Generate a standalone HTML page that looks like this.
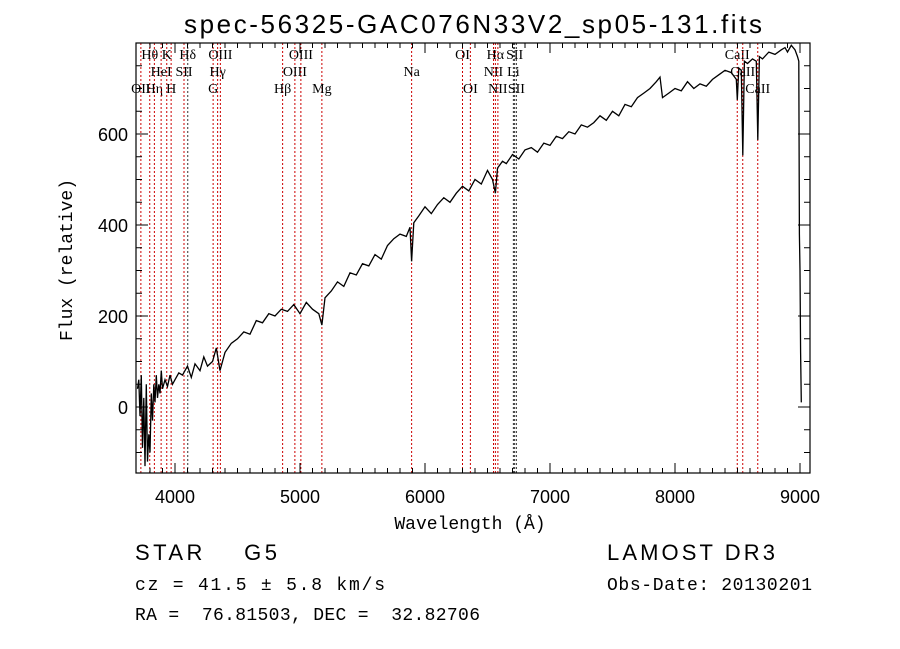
<!DOCTYPE html>
<html><head><meta charset="utf-8"><style>
body{margin:0;background:#fff}
svg{display:block}
text{font-family:"Liberation Serif",serif;fill:#000;white-space:pre}
.m{font-family:"Liberation Mono",monospace}
.s{font-family:"Liberation Sans",sans-serif}
</style></head><body>
<svg id="c" width="900" height="649" xmlns="http://www.w3.org/2000/svg">
<rect width="900" height="649" fill="#fff"/>
<text class="s" x="473" y="33" font-size="26" text-anchor="middle" textLength="578">spec-56325-GAC076N33V2_sp05-131.fits</text>
<g id="lines"></g>
<g id="axes"></g>
<polyline id="spec" fill="none" stroke="#000" stroke-width="1.3"/>
<text class="m" x="470" y="529" font-size="18" text-anchor="middle">Wavelength (Å)</text>
<text class="m" x="0" y="0" font-size="18" text-anchor="middle" transform="translate(72,260) rotate(-90)">Flux (relative)</text>
<text class="s" x="135" y="560" font-size="22" textLength="142">STAR    G5</text>
<text class="m" x="135" y="590" font-size="18" textLength="250">cz = 41.5 ± 5.8 km/s</text>
<text class="m" x="135" y="620" font-size="18" textLength="345">RA =  76.81503, DEC =  32.82706</text>
<text class="s" x="607" y="560" font-size="22" textLength="168">LAMOST DR3</text>
<text class="m" x="607" y="590" font-size="18" textLength="205">Obs-Date: 20130201</text>
</svg>
<script>
const waves=[3700,3710,3720,3730,3740,3750,3760,3770,3780,3790,3800,3810,3820,3830,3840,3850,3860,3870,3880,3890,3900,3920,3940,3960,3980,4000,4030,4060,4100,4130,4160,4200,4230,4260,4300,4330,4360,4400,4450,4500,4550,4600,4650,4700,4750,4800,4850,4900,4950,5000,5050,5100,5150,5175,5200,5250,5300,5350,5400,5450,5500,5550,5600,5650,5700,5750,5800,5850,5880,5893,5910,5950,6000,6050,6100,6150,6200,6250,6300,6350,6400,6450,6500,6540,6563,6580,6620,6650,6700,6750,6800,6850,6900,6950,7000,7050,7100,7150,7200,7250,7300,7350,7400,7450,7500,7550,7600,7650,7700,7750,7800,7850,7880,7900,7950,8000,8050,8100,8150,8200,8250,8300,8350,8400,8450,8490,8498,8510,8530,8542,8555,8580,8620,8650,8662,8675,8700,8750,8800,8850,8880,8900,8930,8960,8980,8990,8995,9000,9005,9010];
const fluxes=[40,60,-20,70,-90,20,-130,50,-120,-60,-100,30,-30,50,10,70,20,50,30,80,40,60,45,70,50,60,75,70,90,65,95,80,110,90,100,130,80,120,140,150,165,160,190,185,205,200,215,210,225,205,230,215,205,180,240,255,275,265,295,290,315,310,335,325,355,370,380,375,395,320,405,420,440,425,445,460,450,470,485,475,500,490,520,500,470,525,540,535,555,545,565,570,560,580,575,595,590,605,600,620,615,625,640,630,650,640,665,660,680,690,700,715,725,680,690,700,695,715,700,710,705,720,730,740,735,720,675,745,740,553,760,755,765,760,587,770,765,780,775,785,790,780,795,785,770,760,380,300,120,10];
const lineWaves=[3727,3798,3835,3889,3934,3969,4072,4102,4305,4341,4363,4861,4959,5007,5175,5893,6300,6363,6548,6563,6583,6707,6717,6731,8498,8542,8662];
const lineLabels=[["OII",3],["Hθ",1],["Hη",3],["HeI",2],["K",1],["H",3],["SII",2],["Hδ",1],["G",3],["Hγ",2],["OIII",1],["Hβ",3],["OIII",2],["OIII",1],["Mg",3],["Na",2],["OI",1],["OI",3],["NII",2],["Hα",1],["NII",3],["Li",2],["SII",1],["SII",3],["CaII",1],["CaII",2],["CaII",3]];
const lineBlack=[0,0,0,0,0,0,0,1,0,0,0,0,0,0,0,0,0,0,0,0,0,1,1,1,0,0,0];
const xTicks=[4000,5000,6000,7000,8000,9000];
const yTicks=[0,200,400,600];
const L=136,R=810,T=43,B=473;
const X=w=>175+(w-4000)*0.125;
const Y=f=>407-f*0.455;
const NS="http://www.w3.org/2000/svg";
function mk(t,a,p){const e=document.createElementNS(NS,t);for(const k in a)e.setAttribute(k,a[k]);p.appendChild(e);return e;}
const ax=document.getElementById('axes'),lg=document.getElementById('lines');
const fr=mk('rect',{x:L,y:T,width:R-L,height:B-T,fill:'none',stroke:'#000','stroke-width':1.2},ax);


for(let w=3800;w<=9000;w+=100){const maj=w%1000===0,len=maj?10:5;
 mk('line',{x1:X(w),x2:X(w),y1:B,y2:B-len,stroke:'#000'},ax);
 mk('line',{x1:X(w),x2:X(w),y1:T,y2:T+len,stroke:'#000'},ax);}
xTicks.forEach(w=>{const t=mk('text',{x:X(w),y:503,'font-size':18,'text-anchor':'middle',class:'s'},ax);t.textContent=w;
 
 });
for(let f=-100;f<=750;f+=50){const maj=f%200===0,len=maj?12:6;
 mk('line',{x1:L,x2:L+len,y1:Y(f),y2:Y(f),stroke:'#000'},ax);
 mk('line',{x1:R,x2:R-len,y1:Y(f),y2:Y(f),stroke:'#000'},ax);}
yTicks.forEach(f=>{const t=mk('text',{x:128,y:Y(f)+7,'font-size':18,'text-anchor':'end',class:'s'},ax);t.textContent=f;
 
 });
lineWaves.forEach((w,i)=>{const l=mk('line',{x1:X(w),x2:X(w),y1:T,y2:B,stroke:lineBlack[i]?'#333':'#c00','stroke-width':1,'stroke-dasharray':'2,2'},lg);
 
 
 const [lab,row]=lineLabels[i];
 const t=mk('text',{x:X(w),y:T+17*row-1,'font-size':14,'text-anchor':'middle'},lg);t.textContent=lab;
 
 });
document.getElementById('spec').setAttribute('points',waves.map((w,i)=>X(w).toFixed(1)+','+Math.max(T,Math.min(B,Y(fluxes[i]))).toFixed(1)).join(' '));
</script>
</body></html>
